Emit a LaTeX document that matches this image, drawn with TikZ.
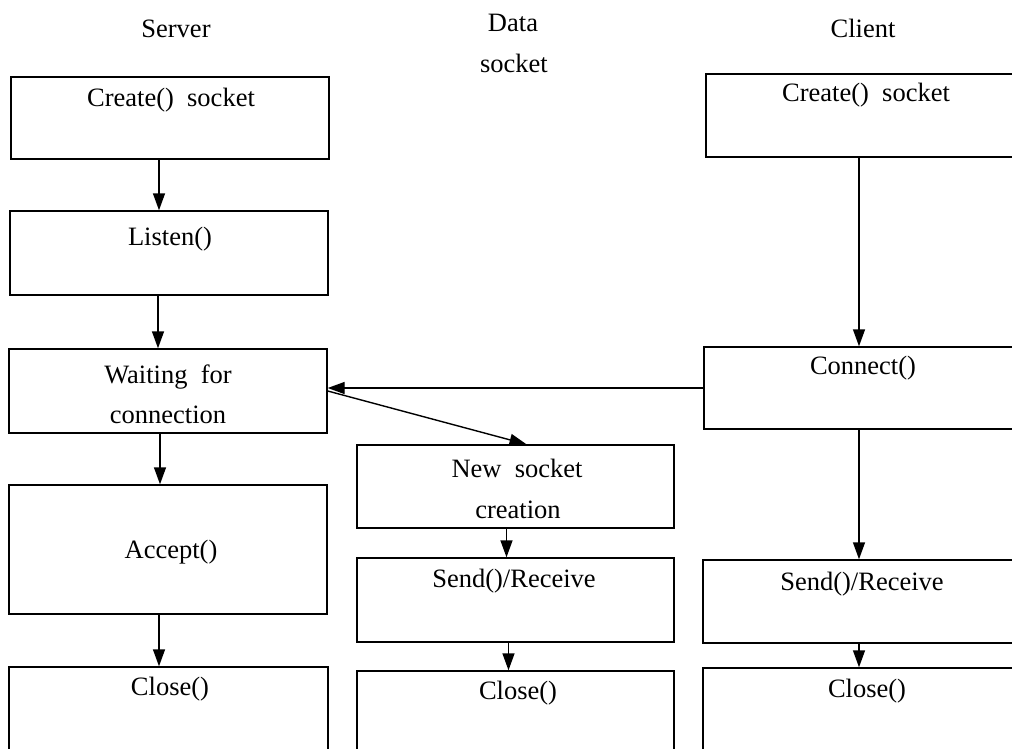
\documentclass[tikz,border=0pt]{standalone}
\usepackage{fontspec}
\setmainfont{Liberation Serif}
\usetikzlibrary{arrows.meta}
\begin{document}
\begin{tikzpicture}[x=1pt,y=-1pt,
  box/.style={draw, line width=1.4pt, rectangle, inner sep=0pt},
  lbl/.style={font=\fontsize{26.5}{30}\selectfont, inner sep=0pt, anchor=base},
  arr/.style={line width=1.4pt, -{Triangle[length=17pt,width=12pt]}},
]
\useasboundingbox (0,0) rectangle (1012,749);
\begin{scope}
\clip (0,0) rectangle (1012,749);
% Server column
\node[box, minimum width=318pt, minimum height=82pt] (s1) at (170,118) {};
\node[box, minimum width=318pt, minimum height=84pt] (s2) at (169,253) {};
\node[box, minimum width=318pt, minimum height=84pt] (s3) at (168,391) {};
\node[box, minimum width=318pt, minimum height=129pt] (s4) at (168,549.5) {};
\node[box, minimum width=319pt, minimum height=120pt] (s5) at (168.5,727) {};
% Data socket column
\node[box, minimum width=317pt, minimum height=83pt] (d1) at (515.5,486.5) {};
\node[box, minimum width=317pt, minimum height=84pt] (d2) at (515.5,600) {};
\node[box, minimum width=317pt, minimum height=120pt] (d3) at (515.5,731) {};
% Client column
\node[box, minimum width=324pt, minimum height=83pt] (c1) at (868,115.5) {};
\node[box, minimum width=326pt, minimum height=82pt] (c2) at (867,388) {};
\node[box, minimum width=327pt, minimum height=83pt] (c3) at (866.5,601.5) {};
\node[box, minimum width=327pt, minimum height=120pt] (c4) at (866.5,728) {};
% connectors (vertical)
\draw[arr] ([xshift=-11pt]s1.south) -- ([xshift=-11pt]s1.south |- s2.north);
\draw[arr] ([xshift=-11pt]s2.south) -- ([xshift=-11pt]s2.south |- s3.north);
\draw[arr] ([xshift=-8pt]s3.south) -- ([xshift=-8pt]s3.south |- s4.north);
\draw[arr] ([xshift=-9pt]s4.south) -- ([xshift=-9pt]s4.south |- s5.north);
\draw[arr] ([xshift=-9pt]d1.south) -- ([xshift=-9pt]d1.south |- d2.north);
\draw[arr] ([xshift=-7pt]d2.south) -- ([xshift=-7pt]d2.south |- d3.north);
\draw[arr] ([xshift=-9pt]c1.south) -- ([xshift=-9pt]c1.south |- c2.north);
\draw[arr] ([xshift=-8pt]c2.south) -- ([xshift=-8pt]c2.south |- c3.north);
\draw[arr] ([xshift=-7.5pt]c3.south) -- ([xshift=-7.5pt]c3.south |- c4.north);
% connectors (between columns)
\draw[arr] (c2.west) -- (c2.west -| s3.east);
\draw[arr] (s3.east) -- ([xshift=11pt]d1.north);
\end{scope}
% titles
\node[lbl] (tS) at (176,38) {Server};
\node[lbl] (tD1) at (513,32) {Data};
\node[lbl] (tD2) at (514,73) {socket};
\node[lbl] (tC) at (863,38) {Client};
% box texts
\node[lbl] at (171,107) {Create()~ socket};
\node[lbl] at (170,245) {Listen()};
\node[lbl] at (168,383) {Waiting~ for};
\node[lbl] at (168,423) {connection};
\node[lbl] at (171,558) {Accept()};
\node[lbl] at (170,695) {Close()};
\node[lbl] at (517,477) {New~ socket};
\node[lbl] at (518,518) {creation};
\node[lbl] at (514,587) {Send()/Receive};
\node[lbl] at (518,699) {Close()};
\node[lbl] at (866,102) {Create()~ socket};
\node[lbl] at (863,374) {Connect()};
\node[lbl] at (862,590) {Send()/Receive};
\node[lbl] at (867,697) {Close()};
\end{tikzpicture}
\end{document}
